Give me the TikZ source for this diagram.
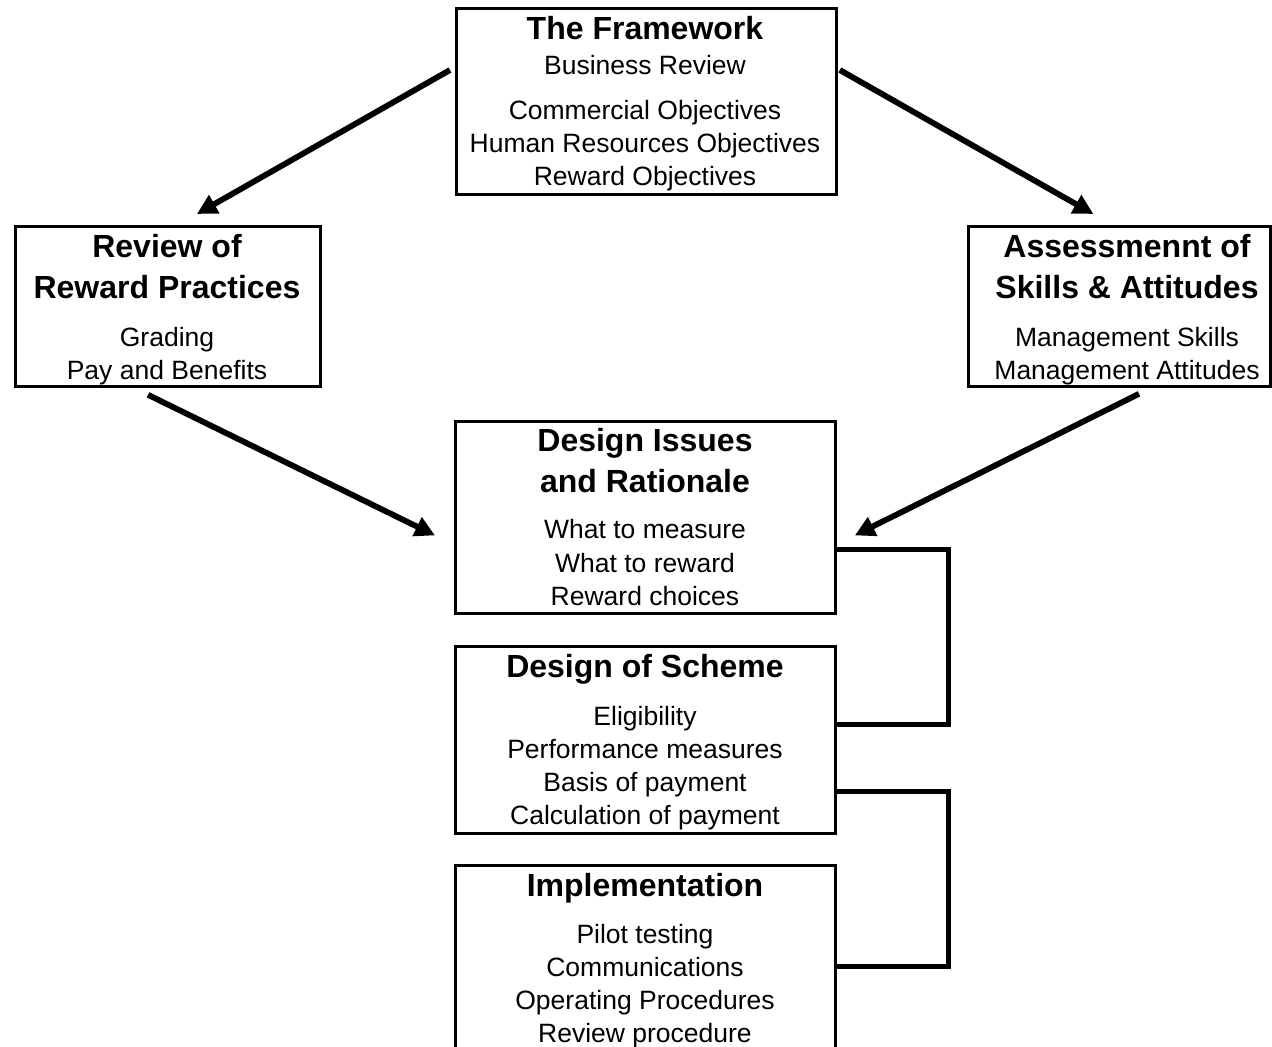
\documentclass[tikz,border=0pt]{standalone}
\usepackage{fontspec}
\setmainfont{Liberation Sans}
\usetikzlibrary{arrows.meta,calc}

\tikzset{
  box/.style={draw, line width=2.8pt, inner sep=0pt, anchor=north west},
  head/.style={anchor=base, inner sep=0pt, font=\fontsize{32}{38}\selectfont\bfseries},
  item/.style={anchor=base, inner sep=0pt, font=\fontsize{26.5}{32}\selectfont},
  flow/.style={line width=5.8pt, -{Triangle[length=20pt,width=20pt]}},
  bracket/.style={line width=5pt, line cap=rect, line join=miter}
}

\begin{document}
\begin{tikzpicture}[x=1pt,y=-1pt]
  \useasboundingbox (0,0) rectangle (1272,1047);
  \clip (0,0) rectangle (1272,1047);

  % boxes
  \node[box, minimum width=380pt, minimum height=186pt] (fw) at (455,7) {};
  \node[box, minimum width=305pt, minimum height=160pt] (rv) at (14,225) {};
  \node[box, minimum width=302pt, minimum height=160pt] (as) at (967,225) {};
  \node[box, minimum width=380pt, minimum height=192pt] (di) at (454,420) {};
  \node[box, minimum width=380pt, minimum height=187pt] (ds) at (454,645) {};
  \node[box, minimum width=380pt, minimum height=200pt] (im) at (454,864) {};

  % The Framework
  \node[head] (fw0) at (645,39)  {The Framework};
  \node[item] (fw1) at (645,74)  {Business Review};
  \node[item] (fw2) at (645,119) {Commercial Objectives};
  \node[item] (fw3) at (645,152) {Human Resources Objectives};
  \node[item] (fw4) at (645,185) {Reward Objectives};

  % Review of Reward Practices
  \node[head] (rv0) at (167,257) {Review of};
  \node[head] (rv1) at (167,298) {Reward Practices};
  \node[item] (rv2) at (167,346) {Grading};
  \node[item] (rv3) at (167,379) {Pay and Benefits};

  % Assessment of Skills & Attitudes
  \node[head] (as0) at (1127,257) {Assessmennt of};
  \node[head] (as1) at (1127,298) {Skills \& Attitudes};
  \node[item] (as2) at (1127,346) {Management Skills};
  \node[item] (as3) at (1127,379) {Management Attitudes};

  % Design Issues and Rationale
  \node[head] (di0) at (645,451) {Design Issues};
  \node[head] (di1) at (645,492) {and Rationale};
  \node[item] (di2) at (645,538) {What to measure};
  \node[item] (di3) at (645,572) {What to reward};
  \node[item] (di4) at (645,605) {Reward choices};

  % Design of Scheme
  \node[head] (ds0) at (645,677) {Design of Scheme};
  \node[item] (ds1) at (645,725) {Eligibility};
  \node[item] (ds2) at (645,758) {Performance measures};
  \node[item] (ds3) at (645,791) {Basis of payment};
  \node[item] (ds4) at (645,824) {Calculation of payment};

  % Implementation
  \node[head] (im0) at (645,896)  {Implementation};
  \node[item] (im1) at (645,943)  {Pilot testing};
  \node[item] (im2) at (645,976)  {Communications};
  \node[item] (im3) at (645,1009) {Operating Procedures};
  \node[item] (im4) at (645,1042) {Review procedure};

  % arrow end points
  \coordinate (a1s) at ($(fw.north west)+(-5,63)$);
  \coordinate (a1e) at ($(rv.north)+(29,-11)$);
  \coordinate (a2s) at ($(fw.north east)+(2,63)$);
  \coordinate (a2e) at ($(as.north)+(-26,-11)$);
  \coordinate (a3s) at ($(rv.south west)+(134,7)$);
  \coordinate (a3e) at ($(di.west)+(-19,18)$);
  \coordinate (a4s) at ($(as.south west)+(172,6)$);
  \coordinate (a4e) at ($(di.east)+(18,18)$);

  \draw[flow] (a1s) -- (a1e);
  \draw[flow] (a2s) -- (a2e);
  \draw[flow] (a3s) -- (a3e);
  \draw[flow] (a4s) -- (a4e);

  % brackets joining the lower boxes
  \coordinate (b1a) at (948,549);
  \coordinate (b1b) at (948,724);
  \coordinate (b2a) at (948,791);
  \coordinate (b2b) at (948,966);
  \draw[bracket] (di.east |- b1a) -- (b1a) -- (b1b) -- (ds.east |- b1b);
  \draw[bracket] (ds.east |- b2a) -- (b2a) -- (b2b) -- (im.east |- b2b);
\end{tikzpicture}
\end{document}
